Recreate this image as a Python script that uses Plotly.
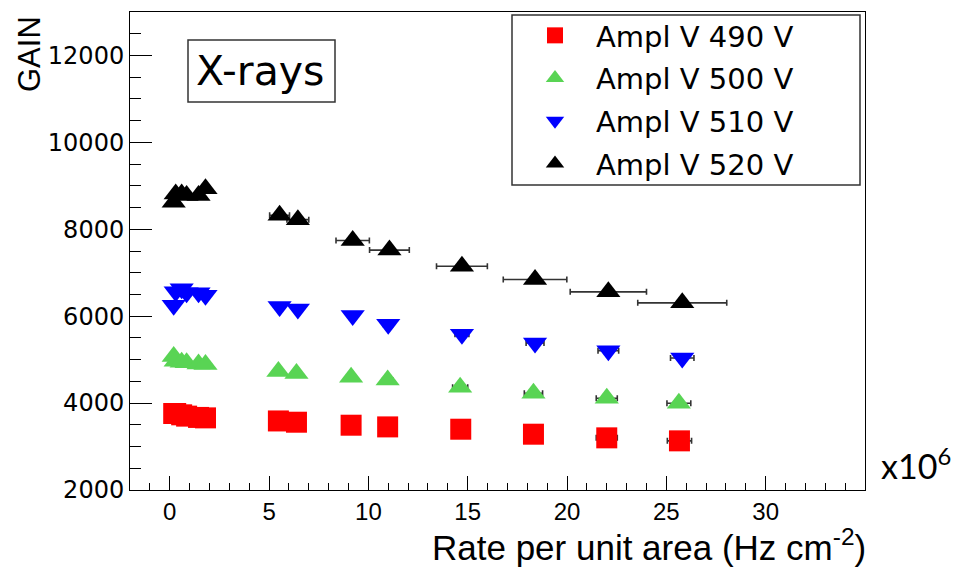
import plotly.graph_objects as go

# ---------------- data ----------------
series_names = ["Ampl V 490 V", "Ampl V 500 V", "Ampl V 510 V", "Ampl V 520 V"]

x_490 = [0.2, 0.3, 0.6, 0.85, 1.45, 1.8, 5.47, 6.38, 9.13, 10.97, 14.65, 18.31, 22.0, 25.66]
g_490 = [3760, 3760, 3730, 3700, 3670, 3660, 3589, 3560, 3491, 3452, 3399, 3284, 3200, 3131]
ex_490 = [0.01, 0.01, 0.02, 0.02, 0.03, 0.04, 0.13, 0.15, 0.21, 0.25, 0.35, 0.45, 0.53, 0.61]

x_500 = [0.2, 0.3, 0.6, 0.85, 1.45, 1.8, 5.47, 6.38, 9.13, 10.97, 14.62, 18.31, 22.0, 25.63]
g_500 = [5070, 4960, 4940, 4930, 4900, 4890, 4725, 4683, 4592, 4530, 4362, 4225, 4110, 3995]
ex_500 = [0.01, 0.01, 0.02, 0.02, 0.03, 0.04, 0.13, 0.15, 0.21, 0.25, 0.38, 0.46, 0.53, 0.60]

x_510 = [0.2, 0.3, 0.6, 0.85, 1.45, 1.8, 5.53, 6.45, 9.21, 11.0, 14.71, 18.39, 22.08, 25.8]
g_510 = [6250, 6560, 6630, 6540, 6540, 6480, 6220, 6167, 6014, 5814, 5585, 5383, 5204, 5039]
ex_510 = [0.01, 0.01, 0.02, 0.02, 0.03, 0.04, 0.13, 0.15, 0.21, 0.25, 0.35, 0.45, 0.52, 0.59]

x_520 = [0.2, 0.3, 0.6, 0.85, 1.45, 1.8, 5.53, 6.45, 9.21, 11.06, 14.71, 18.39, 22.08, 25.8]
g_520 = [8620, 8810, 8810, 8780, 8780, 8930, 8320, 8222, 7741, 7521, 7149, 6844, 6560, 6307]
ex_520 = [0.02, 0.03, 0.05, 0.07, 0.12, 0.15, 0.50, 0.55, 0.84, 1.00, 1.28, 1.60, 1.92, 2.24]

x_ticks = [0, 5, 10, 15, 20, 25, 30]
y_ticks = [2000, 4000, 6000, 8000, 10000, 12000]
x_range = [-2, 35]
y_range = [2000, 13000]

colors = ["#ff0000", "#59d454", "#0000ff", "#000000"]
symbols = ["square", "triangle-up", "triangle-down", "triangle-up"]
sizes = [21, 21, 21, 21]

xs = [x_490, x_500, x_510, x_520]
gs = [g_490, g_500, g_510, g_520]
exs = [ex_490, ex_500, ex_510, ex_520]

fig = go.Figure()
for i, (name, x, g, ex, c, s, sz) in enumerate(zip(series_names, xs, gs, exs, colors, symbols, sizes)):
    fig.add_trace(go.Scatter(
        x=x, y=g, mode="markers", name=name, legendgroup=f"g{i}",
        marker=dict(color=c, symbol=s, size=sz, line=dict(width=0)),
        error_x=dict(type="data", array=ex, visible=True, color="#333333",
                     thickness=1.6, width=3),
    ))

W, H = 956, 567
L, R, T, B = 130, 91, 12, 77
pw = W - L - R
ph = H - T - B

def px(xp):
    return (xp - L) / pw

def py(yp):
    return (H - B - yp) / ph

fig.update_layout(
    width=W, height=H,
    margin=dict(l=L, r=R, t=T, b=B, autoexpand=False),
    paper_bgcolor="white", plot_bgcolor="white",
    showlegend=True,
    legend=dict(
        x=px(514), y=py(10), xanchor="left", yanchor="top",
        bgcolor="rgba(0,0,0,0)", borderwidth=0,
        font=dict(family="DejaVu Sans", size=29, color="black"),
        itemsizing="trace", itemwidth=72, tracegroupgap=2,
    ),
    xaxis=dict(
        range=x_range, tickvals=x_ticks, ticktext=[str(v) for v in x_ticks],
        ticks="inside", ticklen=14, tickwidth=1, tickcolor="black",
        showline=True, linecolor="black", linewidth=1, mirror=True,
        showgrid=False, zeroline=False,
        tickfont=dict(family="Liberation Sans", size=24, color="black"),
        minor=dict(dtick=1, tick0=0, ticks="inside", ticklen=7, tickcolor="black", showgrid=False),
    ),
    yaxis=dict(
        range=y_range, tickvals=y_ticks, ticktext=[str(v) for v in y_ticks],
        ticks="inside", ticklen=22, tickwidth=1, tickcolor="black",
        showline=True, linecolor="black", linewidth=1, mirror=True,
        showgrid=False, zeroline=False,
        tickfont=dict(family="DejaVu Sans", size=24, color="black"),
        minor=dict(dtick=500, tick0=0, ticks="inside", ticklen=11, tickcolor="black", showgrid=False),
    ),
    shapes=[
        dict(type="rect", xref="paper", yref="paper",
             x0=px(512), x1=px(860), y0=py(185), y1=py(15),
             line=dict(color="#333333", width=1.5), fillcolor="rgba(0,0,0,0)"),
        dict(type="rect", xref="paper", yref="paper",
             x0=px(188), x1=px(335), y0=py(102), y1=py(40),
             line=dict(color="#333333", width=1.5), fillcolor="rgba(0,0,0,0)"),
    ],
    annotations=[
        dict(text="X-rays", xref="paper", yref="paper", x=px(260), y=py(71),
             xanchor="center", yanchor="middle", showarrow=False,
             font=dict(family="DejaVu Sans", size=41, color="black")),
        dict(text="GAIN", xref="paper", yref="paper", x=px(30), y=py(14),
             xanchor="center", yanchor="top", showarrow=False, textangle=-90,
             font=dict(family="Liberation Sans", size=31, color="black")),
        dict(text="Rate per unit area (Hz cm<sup>-2</sup>)", xref="paper", yref="paper",
             x=px(868), y=py(545), xanchor="right", yanchor="middle", showarrow=False,
             font=dict(family="Liberation Sans", size=35, color="black")),
        dict(text="x10<sup>6</sup>", xref="paper", yref="paper",
             x=px(879), y=py(464), xanchor="left", yanchor="middle", showarrow=False,
             font=dict(family="Lato", size=34, color="black")),
    ],
)

fig.write_html("out.html")
